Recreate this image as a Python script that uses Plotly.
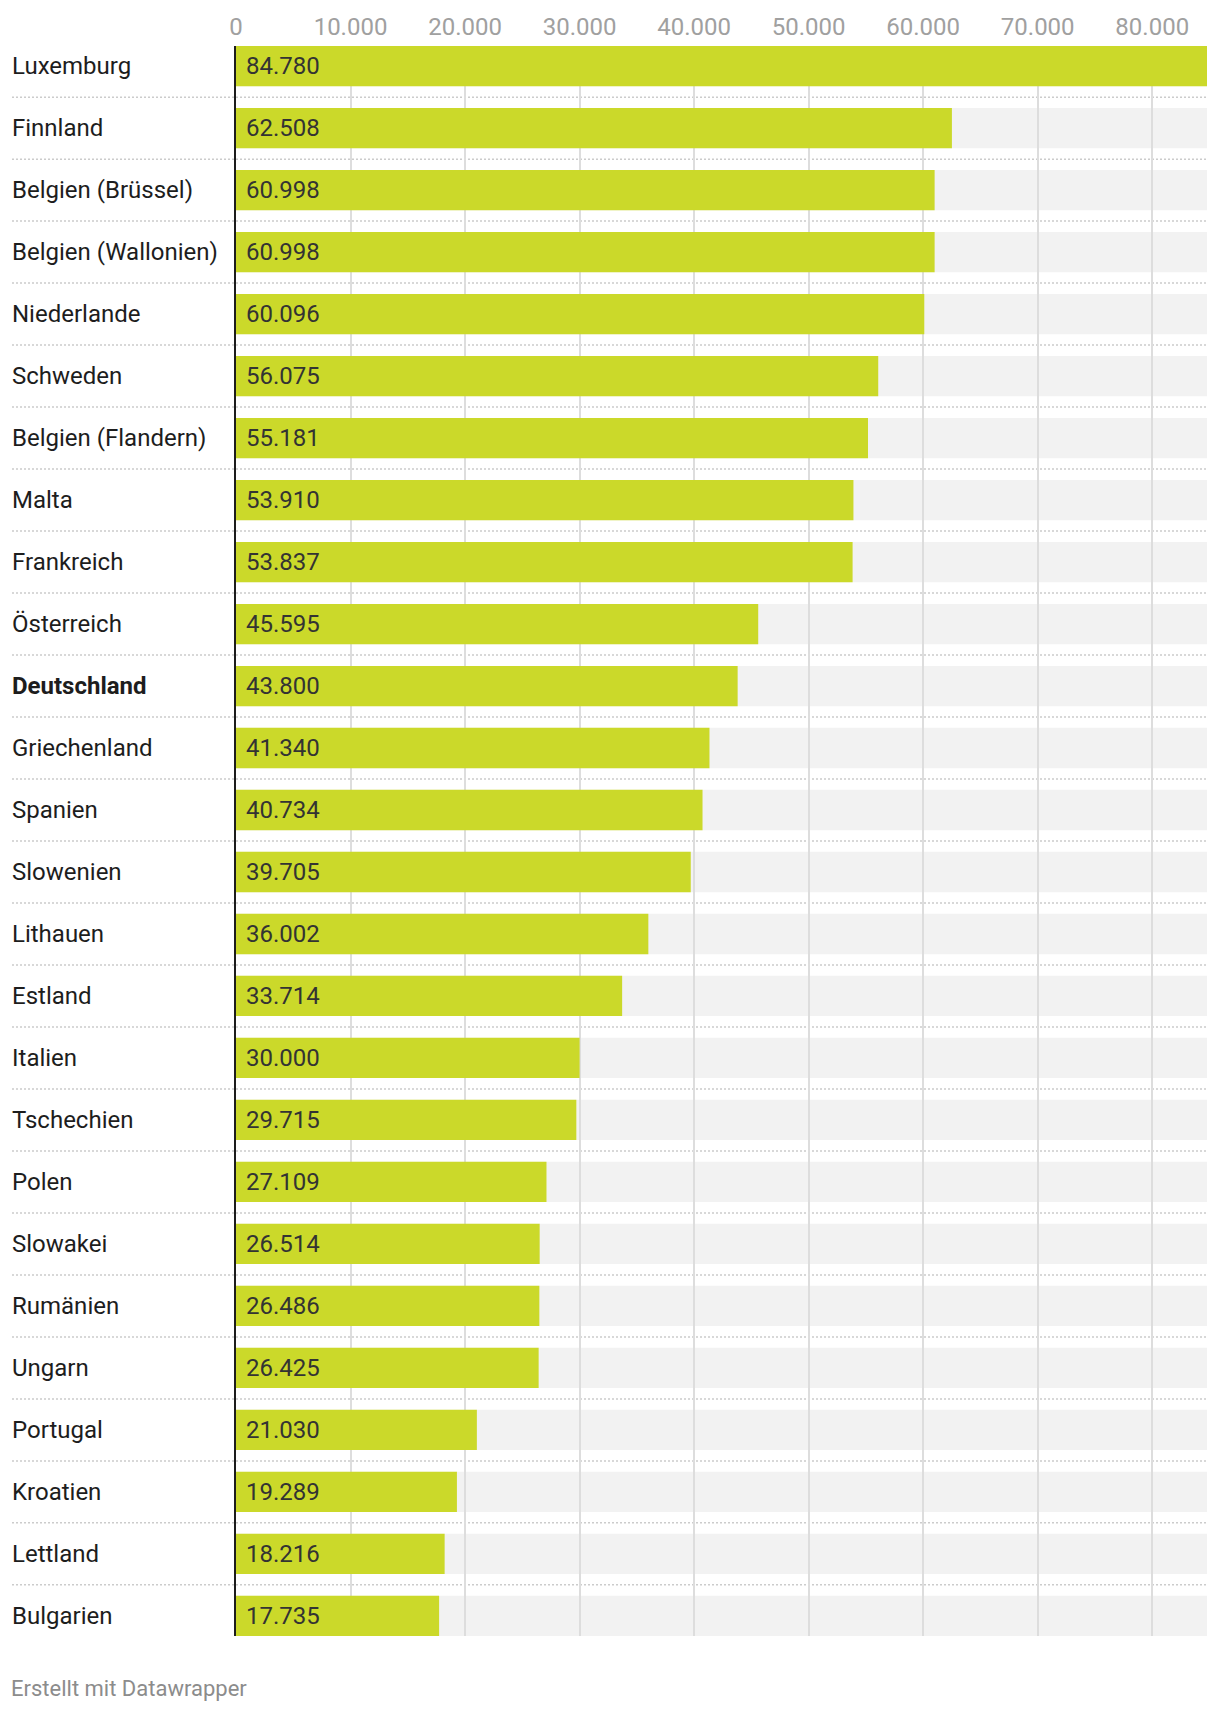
import plotly.graph_objects as go

countries = ["Luxemburg", "Finnland", "Belgien (Brüssel)", "Belgien (Wallonien)", "Niederlande",
             "Schweden", "Belgien (Flandern)", "Malta", "Frankreich", "Österreich", "Deutschland",
             "Griechenland", "Spanien", "Slowenien", "Lithauen", "Estland", "Italien", "Tschechien",
             "Polen", "Slowakei", "Rumänien", "Ungarn", "Portugal", "Kroatien", "Lettland", "Bulgarien"]
values = [84780, 62508, 60998, 60998, 60096, 56075, 55181, 53910, 53837, 45595, 43800,
          41340, 40734, 39705, 36002, 33714, 30000, 29715, 27109, 26514, 26486, 26425,
          21030, 19289, 18216, 17735]
highlight = ["Deutschland"]
tick_values = [0, 10000, 20000, 30000, 40000, 50000, 60000, 70000, 80000]
tick_labels = ["0", "10.000", "20.000", "30.000", "40.000", "50.000", "60.000", "70.000", "80.000"]
footer = "Erstellt mit Datawrapper"


def de(v):
    return f"{v:,}".replace(",", ".")


FONT = "Roboto"
GREEN = "#cbd92a"
n = len(countries)
idx = list(range(n))
bar_w = 0.65
xmax = max(values)

W, H = 1220, 1712
ml, mr, mt, mb = 236, 13, 46, 76
plot_w = W - ml - mr
label_x = (10 - ml) / plot_w

fig = go.Figure()
fig.add_trace(go.Bar(
    y=idx, x=values, orientation="h", width=bar_w,
    marker=dict(color=GREEN, line=dict(width=0)),
    hoverinfo="skip", showlegend=False,
))

shapes = []
annotations = []
for i, (c, v) in enumerate(zip(countries, values)):
    # grey background track
    shapes.append(dict(type="rect", xref="x", yref="y", x0=0, x1=xmax,
                       y0=i - bar_w / 2, y1=i + bar_w / 2,
                       fillcolor="#f2f2f2", line=dict(width=0), layer="below"))
    # dotted separator
    if i < n - 1:
        shapes.append(dict(type="line", xref="paper", yref="y", x0=(12 - ml) / plot_w, x1=1,
                           y0=i + 0.5, y1=i + 0.5,
                           line=dict(color="#cccccc", width=1.5, dash="2px,2px"), layer="below"))
    label = f"<b>{c}</b>" if c in highlight else c
    annotations.append(dict(xref="paper", yref="y", x=label_x, y=i, text=label,
                            xanchor="left", yanchor="middle", showarrow=False,
                            font=dict(family=FONT, size=24, color="#1d1d1d")))
    annotations.append(dict(xref="x", yref="y", x=0, y=i, text=de(v), xshift=8,
                            xanchor="left", yanchor="middle", showarrow=False,
                            font=dict(family=FONT, size=24, color="#333333")))

annotations.append(dict(xref="paper", yref="paper", x=(9 - ml) / plot_w,
                        y=-(1688 - (H - mb)) / (H - mt - mb), text=footer,
                        xanchor="left", yanchor="middle", showarrow=False,
                        font=dict(family=FONT, size=22, color="#8c8c8c")))

fig.update_layout(
    width=W, height=H,
    margin=dict(l=ml, r=mr, t=mt, b=mb, pad=0),
    plot_bgcolor="white", paper_bgcolor="white",
    barmode="overlay",
    shapes=shapes, annotations=annotations,
    font=dict(family=FONT),
    xaxis=dict(range=[0, xmax], side="top", tickvals=tick_values, ticktext=tick_labels,
               showgrid=True, gridcolor="#dddddd", gridwidth=1.5, zeroline=False,
               showline=False, ticks="", ticklabelstandoff=5,
               tickfont=dict(family=FONT, size=24, color="#a0a0a0"), fixedrange=True),
    yaxis=dict(range=[n - 1 + bar_w / 2, -bar_w / 2], showgrid=False, zeroline=False,
               showticklabels=False, showline=True, linecolor="#1d1d1d", linewidth=2,
               ticks="", fixedrange=True),
)

fig.write_html("out.html", config={"displayModeBar": False},
               post_script="document.body.style.margin='0';document.body.style.overflow='hidden';")
